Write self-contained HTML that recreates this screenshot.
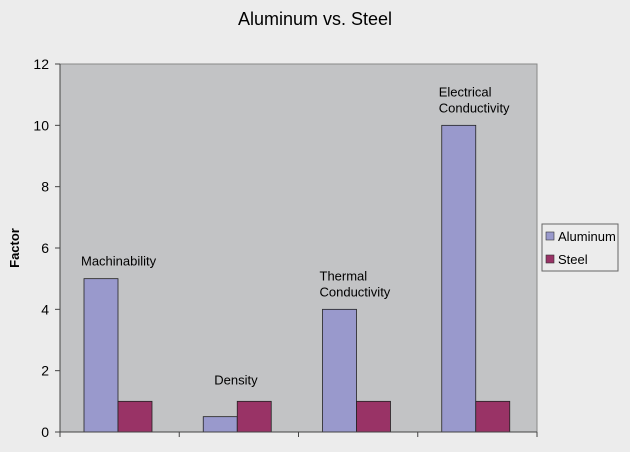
<!DOCTYPE html>
<html><head><meta charset="utf-8"><style>
body{margin:0;background:#ececec;font-family:"Liberation Sans",sans-serif}
svg{display:block}
</style></head><body>
<svg width="630" height="452" id="c">
<rect x="0" y="0" width="630" height="452" fill="#ececec"/>
<text x="315" y="25" text-anchor="middle" font-size="18" fill="#000">Aluminum vs. Steel</text>
<rect x="60" y="64" width="477" height="368" fill="#c2c3c5" stroke="#888" stroke-width="1"/>
<g id="bars"></g>
<g id="axes"></g>
<text transform="translate(19,248) rotate(-90)" text-anchor="middle" font-size="13" font-weight="bold">Factor</text>
<g>
<rect x="542" y="224" width="76" height="47" fill="#ececec" stroke="#666"/>
<rect x="546" y="232" width="8" height="8" fill="#9999cc" stroke="#333" stroke-width="0.6"/>
<text x="558" y="241" font-size="13">Aluminum</text>
<rect x="546" y="255" width="8" height="8" fill="#993366" stroke="#333" stroke-width="0.6"/>
<text x="558" y="264" font-size="13">Steel</text>
</g>
</svg>
<script>
const categories=["Machinability","Density","Thermal Conductivity","Electrical Conductivity"];
const labelLines=[["Machinability"],["Density"],["Thermal","Conductivity"],["Electrical","Conductivity"]];
const aluminum=[5,0.5,4,10];
const steel=[1,1,1,1];
const yTicks=[0,2,4,6,8,10,12];
const NS="http://www.w3.org/2000/svg";
const x0=60,x1=537,y0=432,y1=64,yMax=12;
const bw=(x1-x0)/categories.length;
const yS=v=>y0-(v/yMax)*(y0-y1);
function mk(t,a,p){const e=document.createElementNS(NS,t);for(const k in a)e.setAttribute(k,a[k]);p.appendChild(e);return e;}
const bars=document.getElementById('bars'),axes=document.getElementById('axes');
categories.forEach((c,i)=>{
  const bx=x0+i*bw+24;
  let r=mk('rect',{x:bx,y:yS(aluminum[i]),width:34,height:y0-yS(aluminum[i]),fill:'#9999cc',stroke:'#222','stroke-width':0.8},bars);
  
  
  r=mk('rect',{x:bx+34,y:yS(steel[i]),width:34,height:y0-yS(steel[i]),fill:'#993366',stroke:'#222','stroke-width':0.8},bars);
  
  
  const lines=labelLines[i];
  const top=Math.max(aluminum[i],steel[i]);
  let baseY=yS(top)-13-(lines.length-1)*16;
  if(i===1)baseY-=4;
  lines.forEach((l,j)=>{
    const t=mk('text',{x:bx-3,y:baseY+j*16,'font-size':13},bars);
    if(i===1)t.setAttribute('x',bx+11);
    t.textContent=l;
    
    
  });
});
let l=mk('line',{x1:x0,y1:y0,x2:x0,y2:y1,stroke:'#444'},axes);


l=mk('line',{x1:x0,y1:y0,x2:x1,y2:y0,stroke:'#444'},axes);


yTicks.forEach(v=>{
  const y=yS(v);
  const tk=mk('line',{x1:x0-5,y1:y,x2:x0,y2:y,stroke:'#444'},axes);
  
  
  const t=mk('text',{x:x0-11,y:y+5,'font-size':14,'text-anchor':'end'},axes);
  t.textContent=v;
  
  
});
for(let i=0;i<=categories.length;i++){
  const x=x0+i*bw;
  const tk=mk('line',{x1:x,y1:y0,x2:x,y2:y0+5,stroke:'#444'},axes);
  
  
}
</script>
</body></html>
